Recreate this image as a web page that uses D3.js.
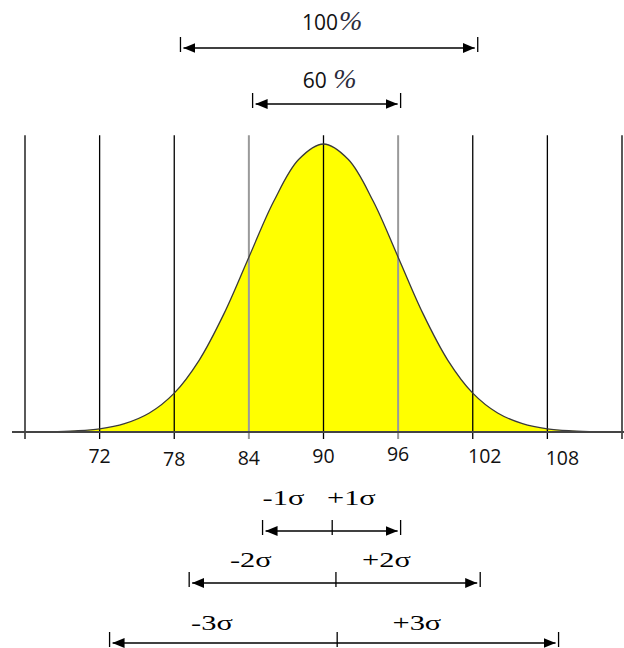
<!DOCTYPE html>
<html>
<head>
<meta charset="utf-8">
<script src="https://cdn.jsdelivr.net/npm/d3@7"></script>
<style>
  html, body { margin: 0; padding: 0; background: #fff; }
  svg { display: block; }
</style>
</head>
<body>
<svg id="chart" width="624" height="648"></svg>
<script>
// values
var gridValues = [66, 72, 78, 84, 90, 96, 102, 108, 114];
var tickLabels = ["72", "78", "84", "90", "96", "102", "108"];
var tickValues = [72, 78, 84, 90, 96, 102, 108];
var greyLines = [84, 96];

// curve height, % of the peak, every 2 units from 66 to 114
var curveX = [66, 68, 70, 72, 74, 76, 78, 80, 82, 84, 86, 88, 90,
              92, 94, 96, 98, 100, 102, 104, 106, 108, 110, 112, 114];
var curveH = [0, 0.1, 0.4, 1.1, 2.9, 6.6, 13.5, 24.9, 41.1, 60.7, 80.1, 94.6, 100,
              94.6, 80.1, 60.7, 41.1, 24.9, 13.5, 6.6, 2.9, 1.1, 0.4, 0.1, 0];

// percentage arrows at the top
var pctLabels = ["100", "60 "];
var pctFrom = [78.5, 84.3];
var pctTo = [102.4, 96.2];

// sigma arrows below the axis
var sigmaK = [1, 2, 3];
var sigmaLo = [85.1, 79.2, 72.8];
var sigmaMid = [90.7, 91.0, 91.1];
var sigmaHi = [96.2, 102.6, 108.9];

var svg = d3.select("#chart");

var x = d3.scaleLinear().domain([66, 114]).range([25, 622]);
var y = d3.scaleLinear().domain([0, 100]).range([432, 144]);
var base = y(0);

// arrow head
svg.append("defs").append("marker")
    .attr("id", "head")
    .attr("viewBox", "0 0 12 10")
    .attr("refX", 12).attr("refY", 5)
    .attr("markerWidth", 12).attr("markerHeight", 10)
    .attr("markerUnits", "userSpaceOnUse")
    .attr("orient", "auto-start-reverse")
  .append("path")
    .attr("d", "M0,0L12,5L0,10Z")
    .attr("fill", "#000");

// yellow area under the curve
var pts = curveX.map(function(v, i) { return [v, curveH[i]]; });

svg.append("path")
    .datum(pts)
    .attr("fill", "#ffff00")
    .attr("d", d3.area()
        .x(function(d) { return x(d[0]); })
        .y0(base)
        .y1(function(d) { return y(d[1]); })
        .curve(d3.curveCatmullRom));

// vertical lines
svg.selectAll("line.grid")
    .data(gridValues)
  .enter().append("line")
    .attr("class", "grid")
    .attr("x1", function(d) { return x(d); })
    .attr("x2", function(d) { return x(d); })
    .attr("y1", y(103))
    .attr("y2", base + 7)
    .attr("stroke", function(d) { return greyLines.indexOf(d) >= 0 ? "#9a9a9a" : "#000"; })
    .attr("stroke-width", function(d) { return greyLines.indexOf(d) >= 0 ? 2 : 1.3; });

// curve outline
svg.append("path")
    .datum(pts)
    .attr("fill", "none")
    .attr("stroke", "#3a3a3a")
    .attr("stroke-width", 1.3)
    .attr("d", d3.line()
        .x(function(d) { return x(d[0]); })
        .y(function(d) { return y(d[1]); })
        .curve(d3.curveCatmullRom));

// base line
svg.append("line")
    .attr("x1", 12).attr("x2", 624)
    .attr("y1", base).attr("y2", base)
    .attr("stroke", "#444")
    .attr("stroke-width", 2);

// tick labels (slightly staggered as in the drawing)
var labelDy = [31, 34, 33, 31, 29, 31, 33];
var labelDx = [0, 0, 0, 0, 0, 12, 15];
svg.selectAll("text.tick")
    .data(tickValues)
  .enter().append("text")
    .attr("class", "tick")
    .attr("x", function(d, i) { return x(d) + labelDx[i]; })
    .attr("y", function(d, i) { return base + labelDy[i]; })
    .attr("text-anchor", "middle")
    .attr("font-family", "'Open Sans', sans-serif")
    .attr("font-size", "19.5px")
    .attr("fill", "#111")
    .text(function(d, i) { return tickLabels[i]; });

function arrow(g, x1, x2, yy, mid) {
  g.append("line")
      .attr("x1", x1 + 3).attr("x2", x2 - 3)
      .attr("y1", yy).attr("y2", yy)
      .attr("stroke", "#000").attr("stroke-width", 1.6)
      .attr("marker-start", "url(#head)")
      .attr("marker-end", "url(#head)");
  var bars = [x1, x2];
  if (mid != null) bars.push(mid);
  bars.forEach(function(bx) {
    g.append("line")
        .attr("x1", bx).attr("x2", bx)
        .attr("y1", yy - 11).attr("y2", yy + 4)
        .attr("stroke", "#000").attr("stroke-width", 1.3);
  });
}

// percentage arrows
var pctY = [48, 104];
var pctTextY = [30, 88];
pctLabels.forEach(function(lab, i) {
  var g = svg.append("g");
  arrow(g, x(pctFrom[i]), x(pctTo[i]), pctY[i], null);
  var t = g.append("text")
      .attr("x", (x(pctFrom[i]) + x(pctTo[i])) / 2 + 3)
      .attr("y", pctTextY[i])
      .attr("text-anchor", "middle")
      .attr("fill", "#111");
  t.append("tspan")
      .attr("font-family", "'Open Sans', sans-serif")
      .attr("font-size", "21px")
      .text(lab);
  t.append("tspan")
      .attr("font-family", "'Liberation Serif', serif")
      .attr("font-style", "italic")
      .attr("font-size", "28px")
      .attr("fill", "#2b2b3b")
      .attr("dx", 1)
      .text("%");
});

// sigma arrows
var rowY = [531, 583, 643];
var rowTextY = [505, 567, 630];
var leftFrac = [0.30, 0.42, 0.45];
var rightFrac = [0.28, 0.35, 0.36];
sigmaK.forEach(function(k, i) {
  var g = svg.append("g");
  var lo = x(sigmaLo[i]), mid = x(sigmaMid[i]), hi = x(sigmaHi[i]);
  arrow(g, lo, hi, rowY[i], mid);

  var lx = lo + (mid - lo) * leftFrac[i];
  var rx = mid + (hi - mid) * rightFrac[i];
  [["-" + k + "σ", lx], ["+" + k + "σ", rx]].forEach(function(p) {
    g.append("text")
        .attr("transform", "translate(" + p[1] + "," + rowTextY[i] + ") scale(1.45,1)")
        .attr("text-anchor", "middle")
        .attr("font-family", "'Liberation Serif', serif")
        .attr("font-size", "21px")
        .attr("fill", "#000")
        .text(p[0]);
  });
});
</script>
</body>
</html>
